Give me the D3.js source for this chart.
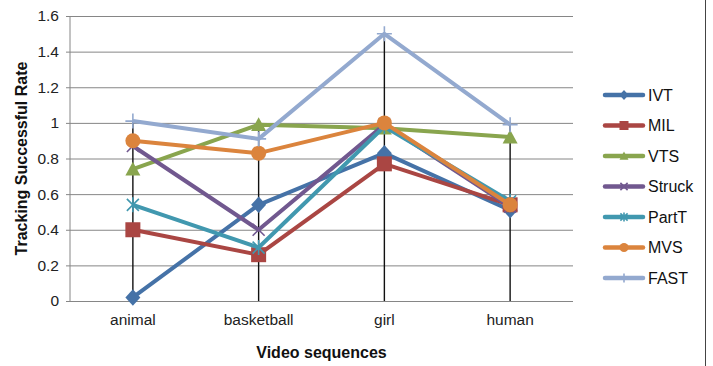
<!DOCTYPE html>
<html>
<head>
<meta charset="utf-8">
<script src="https://cdn.jsdelivr.net/npm/d3@7"></script>
<style>
  body { margin: 0; background: #fff; }
  svg text { font-family: "Liberation Sans", Arial, sans-serif; }
</style>
</head>
<body>
<div id="chart"></div>
<script>
const categories = ['animal', 'basketball', 'girl', 'human'];
const seriesNames = ['IVT', 'MIL', 'VTS', 'Struck', 'PartT', 'MVS', 'FAST'];
const ivt = [0.02, 0.54, 0.83, 0.51];
const mil = [0.40, 0.26, 0.77, 0.54];
const vts = [0.74, 0.99, 0.97, 0.92];
const struck = [0.87, 0.40, 0.99, 0.53];
const partT = [0.54, 0.30, 0.98, 0.56];
const mvs = [0.90, 0.83, 1.00, 0.54];
const fast = [1.01, 0.91, 1.50, 0.99];
const yTicks = [0, 0.2, 0.4, 0.6, 0.8, 1, 1.2, 1.4, 1.6];

const colors = ['#4572A7', '#AA4643', '#89A54E', '#71588F', '#4198AF', '#DB843D', '#93A9CF'];
const markers = ['diamond', 'square', 'triangle', 'cross', 'star', 'circle', 'plus'];
const values = [ivt, mil, vts, struck, partT, mvs, fast];

const series = seriesNames.map((name, i) => ({
	name: name,
	color: colors[i],
	marker: markers[i],
	values: values[i]
}));

const width = 713, height = 366;
const margin = {top: 16, right: 140, bottom: 65, left: 70};
const chartWidth = width - margin.left - margin.right;
const chartHeight = height - margin.top - margin.bottom;

const svg = d3.select('#chart').append('svg')
	.attr('width', width)
	.attr('height', height);

// outer border, only the right side is visible in the picture
svg.append('line')
	.attr('x1', 705.5).attr('x2', 705.5)
	.attr('y1', 0).attr('y2', height)
	.attr('stroke', '#444').attr('stroke-width', 1);

const g = svg.append('g')
	.attr('transform', `translate(${margin.left},${margin.top})`);

const x = d3.scaleBand().domain(categories).range([0, chartWidth]);
const y = d3.scaleLinear().domain([0, 1.6]).range([chartHeight, 0]);
const cx = d => x(d) + x.bandwidth() / 2;

// gridlines + y axis
const axisY = d3.axisLeft(y)
	.tickValues(yTicks)
	.tickSize(-chartWidth - 4)
	.tickFormat(d3.format('~g'));

g.append('g')
	.attr('transform', 'translate(-4,0)')
	.call(axisY)
	.call(s => s.select('.domain').remove())
	.call(s => s.selectAll('.tick line').attr('stroke', '#868686'))
	.call(s => s.selectAll('.tick text')
		.attr('x', -7)
		.attr('fill', '#222')
		.style('font-size', '15.5px'));

g.append('line')
	.attr('x1', 0).attr('x2', 0)
	.attr('y1', 0).attr('y2', chartHeight)
	.attr('stroke', '#868686');

// x axis labels
const axisX = d3.axisBottom(x).tickSize(0).tickPadding(13);
g.append('g')
	.attr('transform', `translate(0,${chartHeight})`)
	.call(axisX)
	.call(s => s.select('.domain').remove())
	.call(s => s.selectAll('.tick text')
		.attr('fill', '#222')
		.style('font-size', '15.5px'));

// drop lines from the highest point to the axis
categories.forEach((c, i) => {
	const top = d3.max(series, s => s.values[i]);
	g.append('line')
		.attr('x1', cx(c)).attr('x2', cx(c))
		.attr('y1', y(top)).attr('y2', y(0))
		.attr('stroke', '#111')
		.attr('stroke-width', 1.4);
});

const line = d3.line()
	.x((d, i) => cx(categories[i]))
	.y(d => y(d));

const drawMarker = function(sel, type, color, r) {
	if (type === 'diamond') {
		sel.append('path')
			.attr('d', `M0,${-r * 1.1}L${r},0L0,${r * 1.1}L${-r},0Z`)
			.attr('fill', color);
	} else if (type === 'square') {
		sel.append('rect')
			.attr('x', -r).attr('y', -r)
			.attr('width', r * 2).attr('height', r * 2)
			.attr('fill', color);
	} else if (type === 'triangle') {
		sel.append('path')
			.attr('d', `M0,${-r}L${r},${r * 0.85}L${-r},${r * 0.85}Z`)
			.attr('fill', color);
	} else if (type === 'circle') {
		sel.append('circle').attr('r', r).attr('fill', color);
	} else if (type === 'cross') {
		sel.append('path')
			.attr('d', `M${-r * 0.8},${-r * 0.8}L${r * 0.8},${r * 0.8}M${-r * 0.8},${r * 0.8}L${r * 0.8},${-r * 0.8}`)
			.attr('stroke', color).attr('stroke-width', 1.6);
	} else if (type === 'star') {
		sel.append('path')
			.attr('d', `M${-r * 0.8},${-r * 0.8}L${r * 0.8},${r * 0.8}M${-r * 0.8},${r * 0.8}L${r * 0.8},${-r * 0.8}M0,${-r}L0,${r}`)
			.attr('stroke', color).attr('stroke-width', 1.6);
	} else if (type === 'plus') {
		sel.append('path')
			.attr('d', `M${-r},0L${r},0M0,${-r}L0,${r}`)
			.attr('stroke', color).attr('stroke-width', 1.6);
	}
};

series.forEach(s => {
	g.append('path')
		.datum(s.values)
		.attr('d', line)
		.attr('fill', 'none')
		.attr('stroke', s.color)
		.attr('stroke-width', 4)
		.attr('stroke-linejoin', 'round');

	s.values.forEach((v, i) => {
		const m = g.append('g')
			.attr('transform', `translate(${cx(categories[i])},${y(v)})`);
		drawMarker(m, s.marker, s.color, 7.5);
	});
});

// axis titles
svg.append('text')
	.attr('transform', `translate(27,${margin.top + chartHeight / 2}) rotate(-90)`)
	.attr('text-anchor', 'middle')
	.style('font-size', '16px')
	.style('font-weight', 'bold')
	.attr('fill', '#111')
	.text('Tracking Successful Rate');

svg.append('text')
	.attr('x', margin.left + chartWidth / 2)
	.attr('y', 358)
	.attr('text-anchor', 'middle')
	.style('font-size', '16px')
	.style('font-weight', 'bold')
	.attr('fill', '#111')
	.text('Video sequences');

// legend
const legend = svg.append('g')
	.attr('transform', 'translate(603,95)');

series.forEach((s, i) => {
	const item = legend.append('g')
		.attr('transform', `translate(0,${i * 30.5})`);
	item.append('line')
		.attr('x1', 2).attr('x2', 40)
		.attr('stroke', s.color)
		.attr('stroke-width', 4.5)
		.attr('stroke-linecap', 'round');
	const m = item.append('g').attr('transform', 'translate(21,0)');
	drawMarker(m, s.marker, s.color, 4.5);
	item.append('text')
		.attr('x', 45)
		.attr('y', 0)
		.attr('dy', '0.36em')
		.style('font-size', '16px')
		.attr('fill', '#111')
		.text(s.name);
});
</script>
</body>
</html>
